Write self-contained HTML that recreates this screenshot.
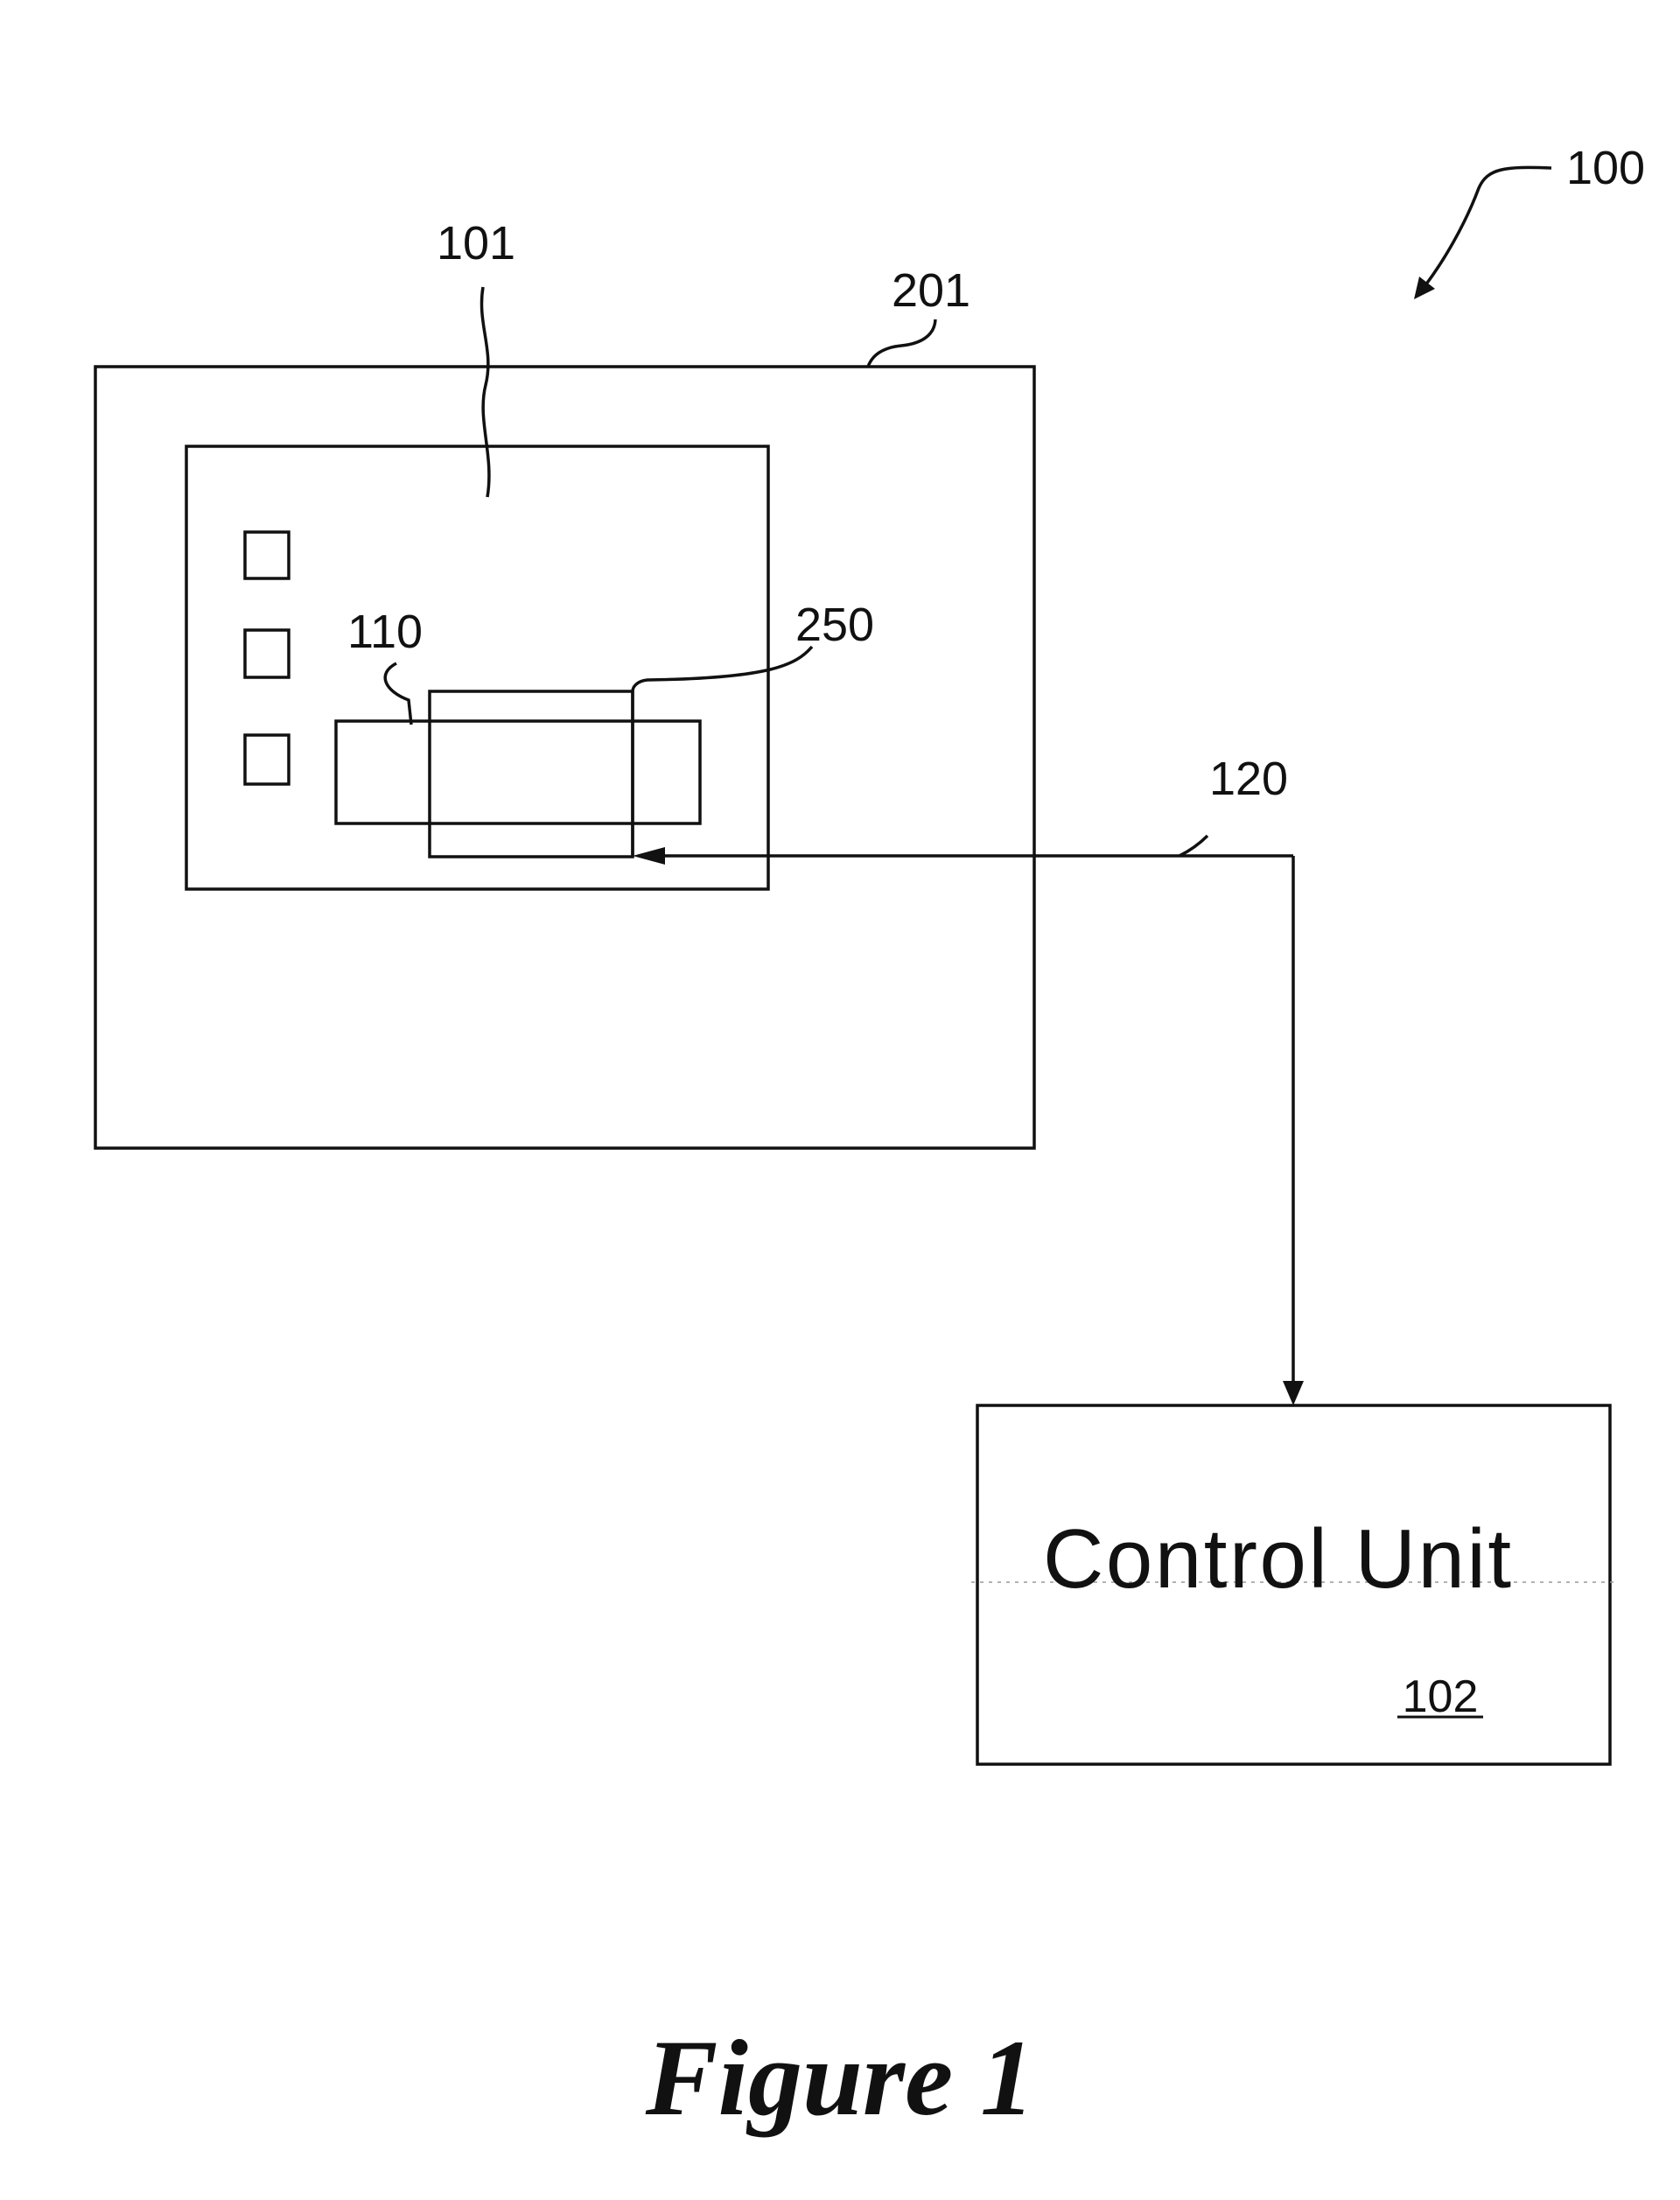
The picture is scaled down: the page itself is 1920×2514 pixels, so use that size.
<!DOCTYPE html>
<html><head><meta charset="utf-8"><style>
html,body{margin:0;padding:0;background:#fff;}
svg{display:block;}
text{font-family:"Liberation Sans",Arial,sans-serif;fill:#111;}
</style></head><body>
<svg width="1920" height="2514" viewBox="0 0 1920 2514" xmlns="http://www.w3.org/2000/svg">
<g fill="none" stroke="#111" stroke-width="3.5">
<rect x="109" y="419" width="1073" height="893"/>
<rect x="213" y="510" width="665" height="506"/>
<rect x="280" y="608" width="50" height="53"/>
<rect x="280" y="720" width="50" height="54"/>
<rect x="280" y="840" width="50" height="56"/>
<rect x="384" y="824" width="416" height="117"/>
<rect x="491" y="790" width="232" height="189"/>
<rect x="1117" y="1606" width="723" height="410"/>
<path d="M1478 978 H740"/>
<path d="M1478 978 V1590"/>
<path d="M723 790 V978"/>
<path d="M552 328 C545 370 565 400 555 440 C545 480 565 520 557 568"/>
<path d="M1069 365 C1068 385 1050 393 1030 395 C1010 397 997 405 992 419"/>
<path d="M453 758 C430 770 440 790 467 800 L470 828"/>
<path d="M928 739 C910 760 880 775 740 777 C728 778 723 785 723 790"/>
<path d="M1380 955 C1370 965 1360 972 1348 978"/>
<path d="M1773 192 C1720 190 1700 192 1690 215 C1675 255 1650 300 1622 335"/>
</g>
<g fill="#111">
<polygon points="723,978 760,968 760,988"/>
<polygon points="1478,1606 1466,1578 1490,1578"/>
<polygon points="1616,342 1622,316 1640,330"/>
</g>
<path d="M1110 1808 H1850" stroke="#999" stroke-width="1.5" stroke-dasharray="4 6"/>
<text x="544" y="296" font-size="54" text-anchor="middle">101</text>
<text x="1064" y="350" font-size="54" text-anchor="middle">201</text>
<text x="440" y="740" font-size="54" text-anchor="middle">110</text>
<text x="954" y="732" font-size="54" text-anchor="middle">250</text>
<text x="1427" y="908" font-size="54" text-anchor="middle">120</text>
<text x="1835" y="210" font-size="54" text-anchor="middle">100</text>
<text x="1192" y="1814" font-size="96" textLength="535" lengthAdjust="spacing">Control Unit</text>
<text x="1646" y="1956" font-size="52" text-anchor="middle">102</text>
<line x1="1597" y1="1962" x2="1695" y2="1962" stroke="#111" stroke-width="3"/>
<text x="960" y="2416" font-size="124" text-anchor="middle" font-weight="bold" font-style="italic" style="font-family:'Liberation Serif',serif">Figure 1</text>
</svg>
</body></html>
